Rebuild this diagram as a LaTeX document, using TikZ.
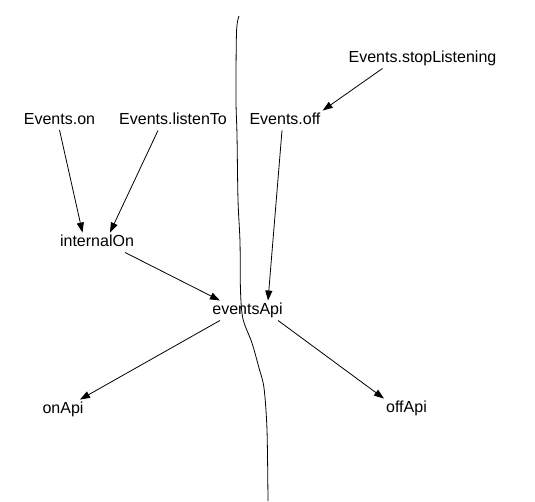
\documentclass[tikz,border=0pt]{standalone}
\usepackage{fontspec}
\setmainfont{Liberation Sans}
\usetikzlibrary{arrows.meta}
\tikzset{
  fn/.style={font=\fontsize{16}{19}\selectfont, inner sep=2pt, text height=12pt, text depth=3.5pt},
  call/.style={draw=black, line width=0.8pt, -{Triangle[length=10pt,width=7pt]}},
  divider/.style={draw=black, line width=0.8pt},
}
\begin{document}
\begin{tikzpicture}[x=1pt,y=-1pt]
  \useasboundingbox (0,0) rectangle (535,501);

  \node[fn] (on) at (59.5,120) {Events.on};
  \node[fn] (listen) at (173,120.5) {Events.listenTo};
  \node[fn] (off) at (285,120.5) {Events.off};
  \node[fn] (stop) at (422.5,58.5) {Events.stopListening};
  \node[fn] (inon) at (97,242.5) {internalOn};
  \node[fn] (api) at (247.5,310.5) {eventsApi};
  \node[fn] (onapi) at (63,409.5) {onApi};
  \node[fn] (offapi) at (406.5,408.5) {offApi};

  \draw[divider] plot[smooth, tension=0.5] coordinates {(239,16) (236.5,32) (236,100) (237,135)
    (238,200) (240,242) (240.5,291) (243,319) (252,343) (259,368) (264,388) (267,430) (268,501)};

  \draw[call] (on.south) -- ([xshift=-14.5pt]inon.north);
  \draw[call] ([xshift=-15pt]listen.south) -- ([xshift=13pt]inon.north);
  \draw[call] ([xshift=-40pt]stop.south) -- (off.north east);
  \draw[call] ([xshift=-3pt]off.south) -- ([xshift=20.5pt]api.north);
  \draw[call] ([xshift=28pt]inon.south) -- ([xshift=-27.5pt]api.north);
  \draw[call] ([xshift=-27.5pt]api.south) -- ([xshift=17pt]onapi.north);
  \draw[call] ([xshift=30.5pt]api.south) -- (offapi.north west);
\end{tikzpicture}
\end{document}
